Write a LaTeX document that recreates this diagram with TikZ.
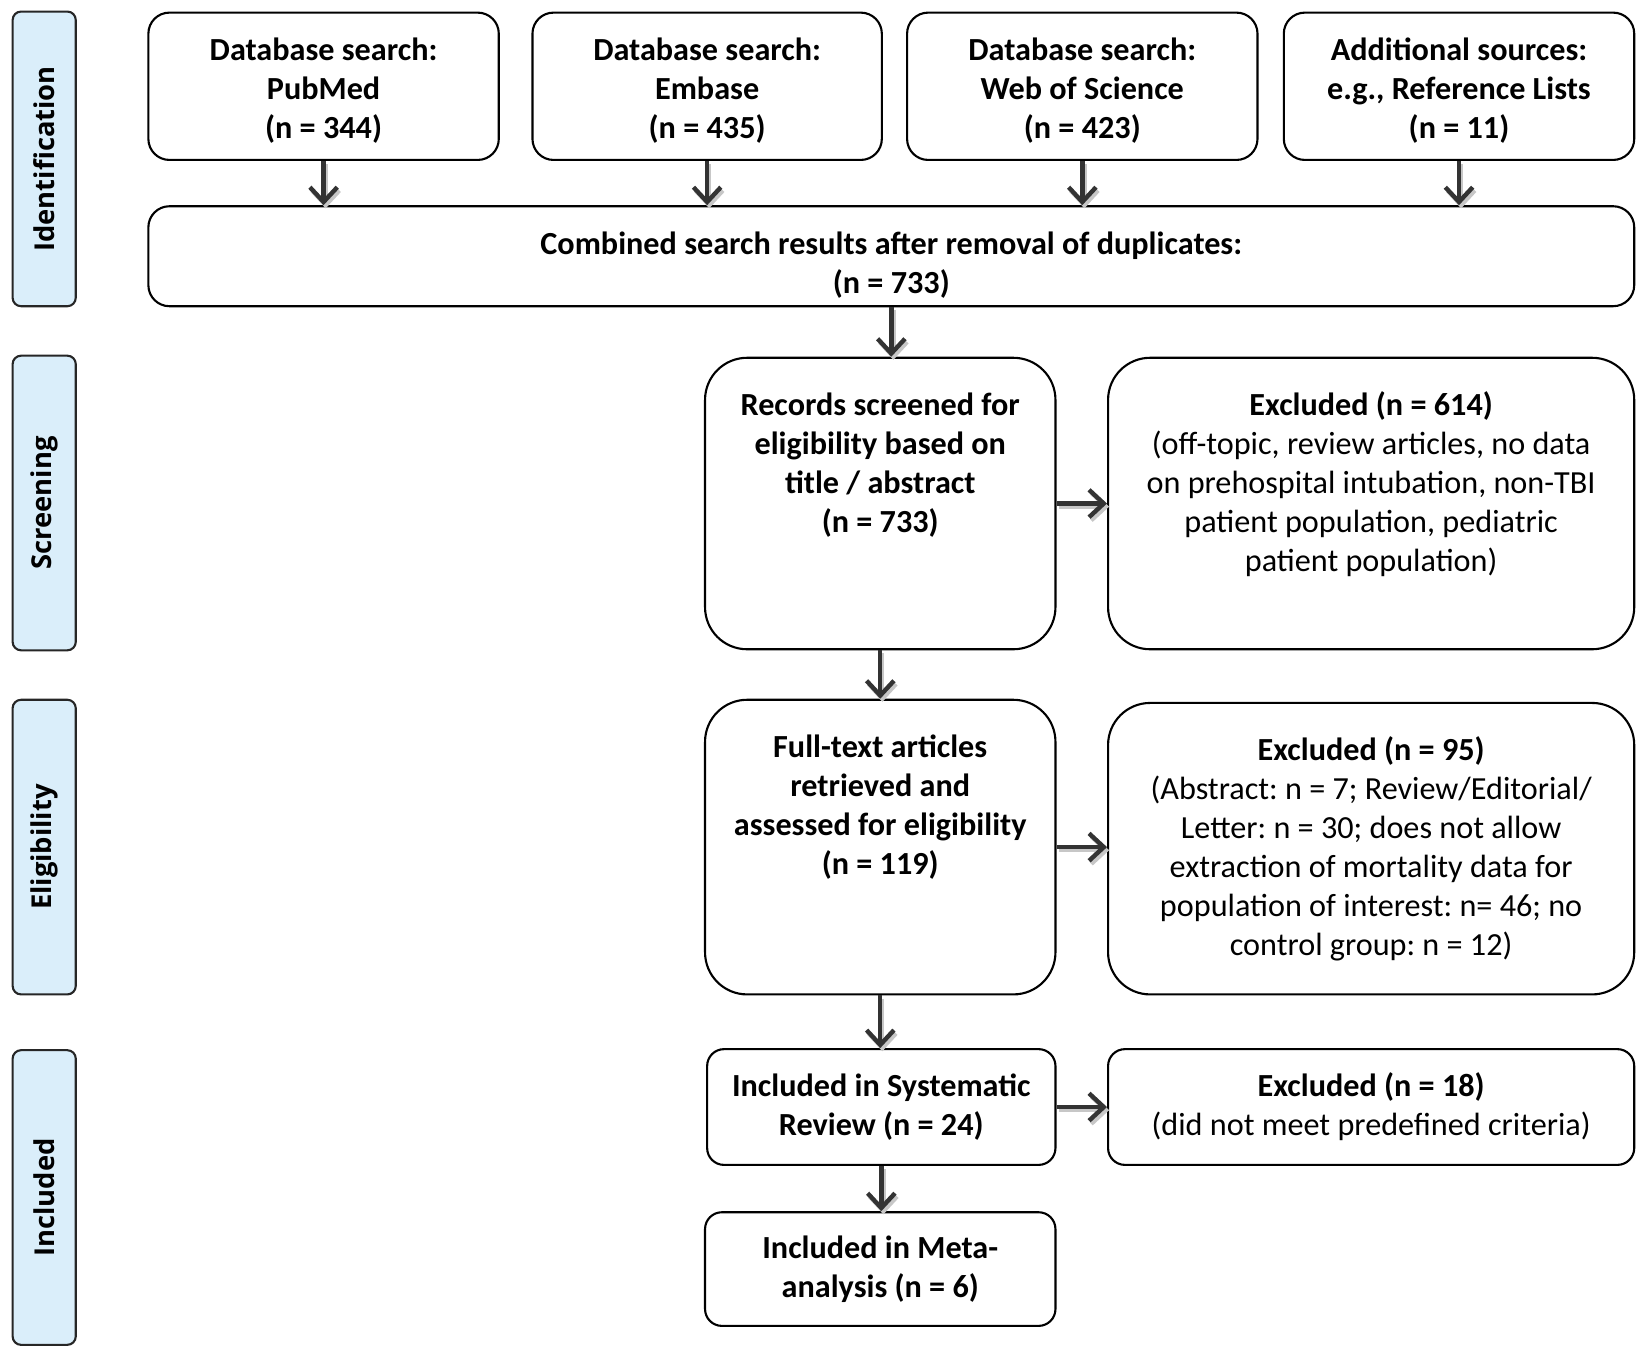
\documentclass[tikz,border=0pt]{standalone}
\usepackage{fontspec}
\setmainfont{Carlito}
\newfontfamily\sidefont{Open Sans}
\usetikzlibrary{arrows.meta}
\definecolor{sideblue}{RGB}{218,238,250}
\definecolor{arrgray}{RGB}{51,51,51}
\frenchspacing
\newcommand{\mfsize}{\fontsize{15.3}{18.5}\selectfont}
\newcommand{\toptext}[4][14.5pt]{\parbox[c][#3][t]{#2}{\centering\vspace*{#1}\strut #4}}
\begin{document}
\begin{tikzpicture}[x=0.5pt,y=-0.5pt,
  box/.style={draw=black, line width=1pt, rounded corners=10pt, inner sep=0pt, align=center, font=\mfsize\bfseries\frenchspacing},
  bigbox/.style={box, rounded corners=20pt},
  smallbox/.style={box, rounded corners=8pt},
  side/.style={draw=black!85, fill=sideblue, line width=1pt, rounded corners=4pt, inner sep=0pt, rotate=90, minimum width=140pt, minimum height=30pt, font=\sidefont\bfseries\fontsize{13}{15}\selectfont},
  arr/.style={draw=arrgray, line width=2.1pt, -{Straight Barb[length=7pt,width=13pt]},
    preaction={draw=black!22, line width=2pt, transform canvas={xshift=1pt,yshift=-1.5pt}}}
]
\useasboundingbox (0,0) rectangle (1568,1293);

% side labels
\node[side] (sid) at (42,151) {Identification};
\node[side] (sscr) at (42,478) {Screening};
\node[side] (selg) at (42,805) {Eligibility};
\node[side] (sinc) at (42,1138) {Included};

% identification
\node[box, minimum width=166.5pt, minimum height=70pt] (pub) at (307.5,82)
  {\toptext[10pt]{166.5pt}{70pt}{Database search:\\PubMed\\(n = 344)}};
\node[box, minimum width=166pt, minimum height=70pt] (emb) at (672,82)
  {\toptext[10pt]{166pt}{70pt}{Database search:\\Embase\\(n = 435)}};
\node[box, minimum width=166.5pt, minimum height=70pt] (wos) at (1028.5,82)
  {\toptext[10pt]{166.5pt}{70pt}{Database search:\\Web of Science\\(n = 423)}};
\node[box, minimum width=166.5pt, minimum height=70pt] (add) at (1386.5,82)
  {\toptext[10pt]{166.5pt}{70pt}{Additional sources:\\e.g., Reference Lists\\(n = 11)}};
\node[box, minimum width=706pt, minimum height=47.5pt] (comb) at (847,243.5)
  {\toptext[10pt]{706pt}{47.5pt}{Combined search results after removal of duplicates:\\(n = 733)}};

% screening
\node[bigbox, minimum width=166.5pt, minimum height=138.5pt] (rec) at (836.5,478.5)
  {\toptext{166.5pt}{138.5pt}{Records screened for\\eligibility based on\\title / abstract\\(n = 733)}};
\node[bigbox, minimum width=250pt, minimum height=138.5pt] (ex1) at (1303,478.5)
  {\toptext{250pt}{138.5pt}{Excluded (n = 614)\\\mdseries (off-topic, review articles, no data\\on prehospital intubation, non-TBI\\patient population, pediatric\\patient population)}};

% eligibility
\node[bigbox, minimum width=166.5pt, minimum height=140pt] (full) at (836.5,805)
  {\toptext{166.5pt}{140pt}{Full-text articles\\retrieved and\\assessed for eligibility\\(n = 119)}};
\node[bigbox, minimum width=250pt, minimum height=138.5pt] (ex2) at (1303,806.5)
  {\toptext{250pt}{138.5pt}{Excluded (n = 95)\\\mdseries (Abstract: n = 7; Review/Editorial/\\Letter: n = 30; does not allow\\extraction of mortality data for\\population of interest: n= 46; no\\control group: n = 12)}};

% included
\node[smallbox, minimum width=165.5pt, minimum height=55pt] (sys) at (837.5,1052) {Included in Systematic\\Review (n = 24)};
\node[smallbox, minimum width=250pt, minimum height=55pt] (ex3) at (1303,1052) {Excluded (n = 18)\\\mdseries (did not meet predefined criteria)};
\node[smallbox, minimum width=166.5pt, minimum height=54pt] (meta) at (836.5,1206) {Included in Meta-\\analysis (n = 6)};

% arrows
\draw[arr] (pub.south) -- (pub.south |- comb.north);
\draw[arr] (emb.south) -- (emb.south |- comb.north);
\draw[arr] (wos.south) -- (wos.south |- comb.north);
\draw[arr] (add.south) -- (add.south |- comb.north);
\draw[arr] (comb.south) -- (comb.south |- rec.north);
\draw[arr] (rec.east) -- (ex1.west |- rec.east);
\draw[arr] (rec.south) -- (rec.south |- full.north);
\draw[arr] (full.east) -- (ex2.west |- full.east);
\draw[arr] (full.south) -- (full.south |- sys.north);
\draw[arr] (sys.east) -- (ex3.west |- sys.east);
\draw[arr] (sys.south) -- (sys.south |- meta.north);
\end{tikzpicture}
\end{document}
